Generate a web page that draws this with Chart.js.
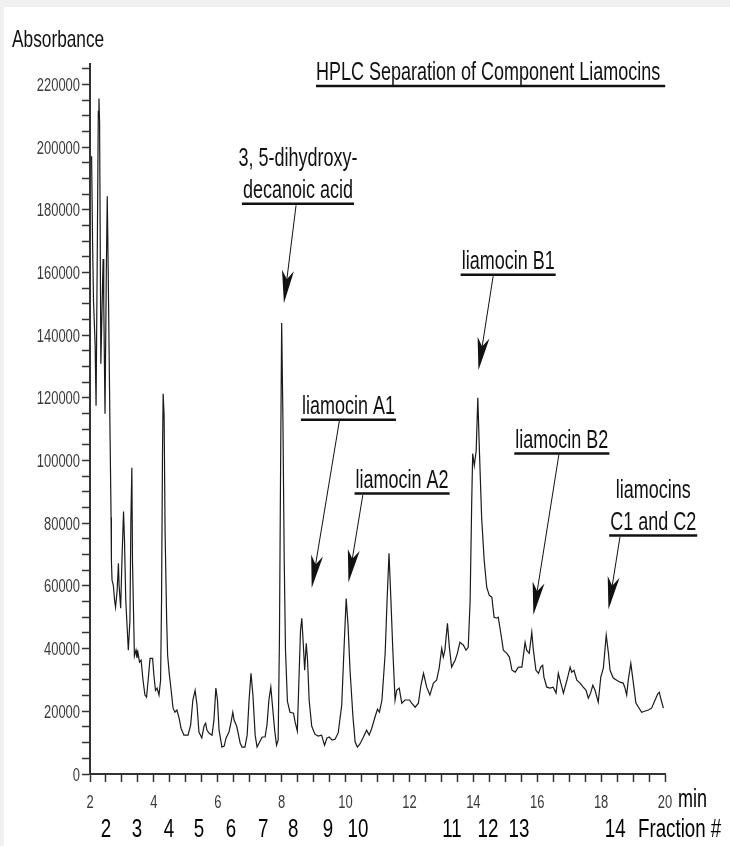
<!DOCTYPE html>
<html>
<head>
<meta charset="utf-8">
<script src="https://cdn.jsdelivr.net/npm/chart.js@4/dist/chart.umd.min.js"></script>
<style>
  html, body { margin: 0; padding: 0; background: #f0f0f0; }
  canvas { display: block; }
</style>
</head>
<body>
<canvas id="hplc" width="730" height="846"></canvas>
<script>
// retention time (min) and detector absorbance
const retentionTimes = [
  2.05, 2.08, 2.11, 2.16, 2.19, 2.23, 2.26, 2.28, 2.30, 2.34,
  2.41, 2.43, 2.47, 2.51, 2.54, 2.57, 2.63, 2.66, 2.67, 2.69,
  2.73, 2.77, 2.80, 2.85, 2.89, 2.91, 2.96, 3.00, 3.05, 3.08,
  3.12, 3.16, 3.20, 3.25, 3.28, 3.31, 3.33, 3.39, 3.44, 3.47,
  3.50, 3.55, 3.60, 3.66, 3.72, 3.77, 3.82, 3.88, 3.96, 4.00,
  4.05, 4.10, 4.16, 4.21, 4.24, 4.27, 4.29, 4.32, 4.35, 4.40,
  4.43, 4.48, 4.54, 4.60, 4.66, 4.72, 4.79, 4.85, 4.94, 5.07,
  5.15, 5.22, 5.29, 5.35, 5.41, 5.50, 5.57, 5.62, 5.66, 5.73,
  5.82, 5.88, 5.94, 5.99, 6.04, 6.13, 6.20, 6.26, 6.35, 6.41,
  6.47, 6.51, 6.59, 6.63, 6.70, 6.76, 6.85, 6.92, 6.98, 7.04,
  7.10, 7.17, 7.23, 7.31, 7.39, 7.48, 7.54, 7.60, 7.66, 7.71,
  7.78, 7.84, 7.89, 7.93, 7.97, 8.00, 8.04, 8.08, 8.12, 8.18,
  8.26, 8.37, 8.42, 8.49, 8.54, 8.59, 8.63, 8.67, 8.72, 8.77,
  8.81, 8.86, 8.94, 9.04, 9.14, 9.25, 9.34, 9.42, 9.49, 9.58,
  9.67, 9.77, 9.88, 9.95, 10.02, 10.08, 10.14, 10.23, 10.30, 10.37,
  10.45, 10.56, 10.66, 10.74, 10.82, 10.92, 11.00, 11.06, 11.14, 11.24,
  11.30, 11.36, 11.42, 11.48, 11.55, 11.60, 11.68, 11.76, 11.86, 12.00,
  12.07, 12.18, 12.28, 12.36, 12.44, 12.54, 12.64, 12.75, 12.85, 12.93,
  13.01, 13.06, 13.11, 13.19, 13.25, 13.32, 13.43, 13.50, 13.58, 13.69,
  13.77, 13.84, 13.90, 13.95, 13.98, 14.03, 14.09, 14.14, 14.19, 14.26,
  14.34, 14.42, 14.50, 14.58, 14.65, 14.73, 14.78, 14.86, 14.94, 15.05,
  15.13, 15.21, 15.31, 15.41, 15.52, 15.62, 15.67, 15.75, 15.83, 15.88,
  15.96, 16.04, 16.11, 16.17, 16.21, 16.30, 16.40, 16.50, 16.59, 16.66,
  16.74, 16.82, 16.93, 17.03, 17.08, 17.15, 17.24, 17.34, 17.44, 17.53,
  17.60, 17.67, 17.74, 17.81, 17.91, 17.99, 18.07, 18.16, 18.23, 18.28,
  18.38, 18.49, 18.59, 18.69, 18.74, 18.80, 18.85, 18.93, 19.01, 19.09,
  19.17, 19.27, 19.38, 19.48, 19.58, 19.69, 19.77, 19.82, 19.88, 19.95
];
const absorbance = [
  197100, 170000, 150900, 137200, 117500, 169400, 211400, 215500, 208200, 130900,
  164300, 150900, 114900, 159500, 184300, 160500, 106300, 81800, 68100, 61800,
  60200, 55400, 53200, 58600, 67200, 60200, 52900, 68100, 83700, 74500,
  55400, 47400, 39500, 49000, 80900, 97700, 68100, 37600, 39500, 37000,
  38800, 35700, 36300, 29900, 25200, 24500, 29900, 36900, 36900, 31500,
  26700, 27400, 25200, 29900, 55400, 103200, 121300, 114300, 77700, 49000,
  37900, 32100, 26700, 21000, 19700, 20400, 17800, 14600, 12400, 12400,
  15600, 23600, 26700, 22000, 13400, 11500, 15300, 16200, 14000, 13000,
  12400, 17200, 27400, 23600, 14000, 8600, 8900, 11500, 13400, 16200,
  19700, 17200, 15300, 13400, 9900, 8600, 8600, 12400, 23600, 32100,
  25200, 12400, 8600, 10200, 11800, 11800, 15600, 23600, 27700, 22000,
  14000, 9200, 10800, 42700, 103200, 143900, 112700, 68100, 39500, 23200,
  19700, 19400, 16600, 13700, 29900, 45800, 49700, 42700, 33100, 41700,
  36300, 23600, 15300, 12700, 12100, 12400, 9200, 11500, 11800, 10800,
  11100, 13100, 22000, 39500, 56000, 47100, 33100, 18500, 10200, 8600,
  9600, 11800, 14000, 12400, 14600, 18100, 20700, 19700, 23600, 38500,
  55400, 70400, 55400, 39500, 23600, 26700, 27400, 22600, 23600, 23600,
  22600, 21300, 22600, 28300, 32100, 27700, 25200, 29000, 29900, 33800,
  40100, 37300, 39500, 48100, 40400, 34100, 36300, 38500, 42000, 41100,
  39500, 40400, 55400, 87200, 102200, 98400, 103200, 120000, 103200, 81800,
  68100, 59500, 57000, 56400, 50000, 49700, 50000, 44900, 39500, 38500,
  37300, 33100, 32500, 34100, 34100, 42000, 39500, 38500, 45200, 39500,
  33100, 32100, 34100, 34700, 30900, 27700, 27400, 27700, 25800, 32100,
  29000, 25800, 29900, 34100, 32500, 33100, 29900, 29000, 27700, 26700,
  24200, 25800, 28300, 26700, 22900, 30900, 33800, 44300, 38500, 33100,
  30600, 29900, 29300, 29000, 27700, 25200, 29900, 35300, 29000, 22600,
  21300, 19700, 20100, 20400, 21000, 23600, 25500, 26100, 23600, 21000
];

// axis ticks
const yTickValues = [];
for (let v = 0; v <= 225000; v += 5000) yTickValues.push(v);
const yLabelEvery = 20000;
const xLabelEvery = 2;

// collected fractions, placed under the time axis
const fractionNumbers = ["2", "3", "4", "5", "6", "7", "8", "9", "10", "11", "12", "13", "14"];
const fractionTimes = [2.50, 3.47, 4.47, 5.41, 6.41, 7.42, 8.36, 9.45, 10.39, 13.33, 14.46, 15.43, 18.44];

// peak call-outs: text lines, baseline of last line, arrow tail and arrow tip (min, absorbance)
const peakNames = [
  ["3, 5-dihydroxy-", "decanoic acid"],
  ["liamocin A1"],
  ["liamocin A2"],
  ["liamocin B1"],
  ["liamocin B2"],
  ["liamocins", "C1 and C2"]
];
const labelAt = [[8.51, 183700], [10.09, 114800], [11.77, 91200], [15.09, 161000], [16.77, 104000], [19.63, 77800]];
const arrowFrom = [[8.45, 181400], [9.81, 112900], [10.54, 89000], [14.62, 158800], [16.68, 102000], [18.59, 75600]];
const arrowTo = [[8.07, 150200], [8.94, 59300], [10.09, 61100], [14.16, 128800], [15.88, 50700], [18.23, 52500]];

const chartTitle = "HPLC Separation of Component Liamocins ";
const yTitle = "Absorbance";

// no narrow font installed, so text is squeezed horizontally
const FONT = "'Liberation Sans', Arial, sans-serif";
const SQUEEZE = 0.72;

function squeezedText(ctx, txt, x, y, size, align) {
  ctx.font = size + "px " + FONT;
  const w = ctx.measureText(txt).width * SQUEEZE;
  let left = x;
  if (align === "center") left = x - w / 2;
  else if (align === "right") left = x - w;
  ctx.save();
  ctx.translate(left, y);
  ctx.scale(SQUEEZE, 1);
  ctx.textAlign = "left";
  ctx.textBaseline = "alphabetic";
  ctx.fillText(txt, 0, 0);
  ctx.restore();
  return { left, width: w };
}

function drawArrow(ctx, x1, y1, x2, y2) {
  const a = Math.atan2(y2 - y1, x2 - x1);
  const c = Math.cos(a), s = Math.sin(a);
  ctx.beginPath();
  ctx.moveTo(x1, y1);
  ctx.lineTo(x2 - c * 20, y2 - s * 20);
  ctx.stroke();
  const len = 33, half = 6, notch = 24;
  ctx.beginPath();
  ctx.moveTo(x2, y2);
  ctx.lineTo(x2 - c * len - s * half, y2 - s * len + c * half);
  ctx.lineTo(x2 - c * notch, y2 - s * notch);
  ctx.lineTo(x2 - c * len + s * half, y2 - s * len - c * half);
  ctx.closePath();
  ctx.fill();
}

const backdrop = {
  id: "backdrop",
  beforeDraw(chart) {
    const ctx = chart.ctx;
    ctx.save();
    ctx.fillStyle = "#f0f0f0";
    ctx.fillRect(0, 0, chart.width, chart.height);
    ctx.fillStyle = "#ffffff";
    ctx.fillRect(4, 7, chart.width - 4, chart.height - 7);
    ctx.restore();
  }
};

const callouts = {
  id: "callouts",
  afterDraw(chart) {
    const ctx = chart.ctx;
    const xs = chart.scales.x, ys = chart.scales.y;
    ctx.save();

    // tick labels on the library's ticks
    ctx.fillStyle = "#3a3a3a";
    xs.ticks.forEach((t) => {
      if (Math.abs(t.value % xLabelEvery) < 1e-9) {
        squeezedText(ctx, String(t.value), xs.getPixelForValue(t.value), 808, 18, "center");
      }
    });
    ys.ticks.forEach((t) => {
      if (t.value % yLabelEvery === 0) {
        squeezedText(ctx, String(t.value), ys.right - 10, ys.getPixelForValue(t.value) + 6.5, 18, "right");
      }
    });

    // titles
    ctx.fillStyle = "#111";
    ctx.strokeStyle = "#111";
    squeezedText(ctx, yTitle, 12, 47, 24, "left");
    const tt = squeezedText(ctx, chartTitle, 316, 80, 25, "left");
    ctx.lineWidth = 2.5;
    ctx.beginPath();
    ctx.moveTo(tt.left, 86);
    ctx.lineTo(tt.left + tt.width, 86);
    ctx.stroke();

    // peak names with arrows
    peakNames.forEach((lines, i) => {
      const cx = xs.getPixelForValue(labelAt[i][0]);
      const by = ys.getPixelForValue(labelAt[i][1]);
      let last;
      lines.forEach((txt, k) => {
        last = squeezedText(ctx, txt, cx, by - (lines.length - 1 - k) * 32, 25, "center");
      });
      ctx.lineWidth = 2.5;
      ctx.beginPath();
      ctx.moveTo(last.left - 1, by + 5.5);
      ctx.lineTo(last.left + last.width + 1, by + 5.5);
      ctx.stroke();
      ctx.lineWidth = 1;
      drawArrow(ctx,
        xs.getPixelForValue(arrowFrom[i][0]), ys.getPixelForValue(arrowFrom[i][1]),
        xs.getPixelForValue(arrowTo[i][0]), ys.getPixelForValue(arrowTo[i][1]));
    });

    // fraction numbers and unit labels
    ctx.fillStyle = "#000";
    fractionNumbers.forEach((f, i) => {
      squeezedText(ctx, f, xs.getPixelForValue(fractionTimes[i]), 837, 26, "center");
    });
    squeezedText(ctx, "Fraction #", 638, 837, 26, "left");
    squeezedText(ctx, "min", xs.right + 13, 807, 25, "left");
    ctx.restore();
  }
};

new Chart(document.getElementById("hplc"), {
  type: "line",
  data: {
    datasets: [{
      data: retentionTimes.map((t, i) => ({ x: t, y: absorbance[i] })),
      borderColor: "#1a1a1a",
      borderWidth: 1.2,
      pointRadius: 0,
      tension: 0,
      fill: false
    }]
  },
  options: {
    responsive: false,
    animation: false,
    layout: { padding: { top: 64, right: 65, left: 0, bottom: 0 } },
    plugins: { legend: { display: false }, tooltip: { enabled: false } },
    scales: {
      x: {
        type: "linear",
        min: 2,
        max: 20,
        afterFit(scale) { scale.height = 72; },
        ticks: {
          stepSize: 0.5,
          autoSkip: false,
          maxRotation: 0,
          color: "rgba(0,0,0,0)"
        },
        grid: { drawOnChartArea: false, tickLength: 8, tickColor: "#333", tickWidth: 1.5 },
        border: { color: "#333", width: 2 }
      },
      y: {
        type: "linear",
        min: 0,
        max: 226500,
        afterFit(scale) { scale.width = 90; },
        afterBuildTicks(scale) {
          scale.ticks = yTickValues.map((v) => ({ value: v }));
        },
        ticks: {
          autoSkip: false,
          color: "rgba(0,0,0,0)"
        },
        grid: { drawOnChartArea: false, tickLength: 8, tickColor: "#333", tickWidth: 1.5 },
        border: { color: "#333", width: 2 }
      }
    }
  },
  plugins: [backdrop, callouts]
});
</script>
</body>
</html>
